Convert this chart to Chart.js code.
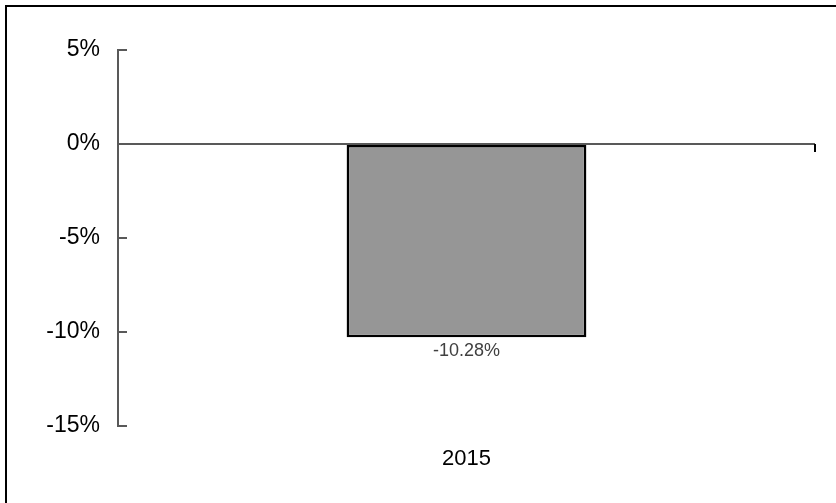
<!DOCTYPE html>
<html>
<head>
<meta charset="utf-8">
<script src="https://cdn.jsdelivr.net/npm/chart.js@4.4.1/dist/chart.umd.min.js"></script>
<style>
  html, body { margin: 0; padding: 0; background: #fff; overflow: hidden; }
  #wrap { position: relative; width: 836px; height: 503px; }
  #frame { position: absolute; left: 5px; top: 5px; width: 900px; height: 600px; border: 2px solid #000; }
  #chart { position: absolute; left: 0; top: 0; }
</style>
</head>
<body>
<div id="wrap">
  <div id="frame"></div>
  <canvas id="chart" width="836" height="503"></canvas>
</div>
<script>
//categories and values
const years = ["2015"];
const returns = [-10.28];
//y axis range
const yMin = -15;
const yMax = 5;
const yStep = 5;

const fontFamily = "'Liberation Sans', Arial, sans-serif";

//draws the inward tick marks, the end tick of the zero line and the value label
const axisExtras = {
  id: "axisExtras",
  afterDatasetsDraw(chart) {
    const ctx = chart.ctx;
    const y = chart.scales.y;
    const area = chart.chartArea;
    ctx.save();
    ctx.strokeStyle = "#595959";
    ctx.lineWidth = 2;
    y.ticks.forEach((t) => {
      const py = Math.round(y.getPixelForValue(t.value));
      ctx.beginPath();
      ctx.moveTo(area.left, py);
      ctx.lineTo(area.left + 9, py);
      ctx.stroke();
    });
    const zero = Math.round(y.getPixelForValue(0));
    ctx.strokeStyle = "#000";
    ctx.beginPath();
    ctx.moveTo(area.right, zero);
    ctx.lineTo(area.right, zero + 8);
    ctx.stroke();

    //value label under each bar
    const meta = chart.getDatasetMeta(0);
    ctx.fillStyle = "#404040";
    ctx.font = "18px " + fontFamily;
    ctx.textAlign = "center";
    ctx.textBaseline = "middle";
    meta.data.forEach((bar, i) => {
      ctx.fillText(returns[i].toFixed(2) + "%", bar.x, bar.y + 14);
    });
    ctx.restore();
  },
};

new Chart(document.getElementById("chart"), {
  type: "bar",
  plugins: [axisExtras],
  data: {
    labels: years,
    datasets: [
      {
        data: returns,
        backgroundColor: "#969696",
        borderColor: "#000",
        borderWidth: 2.5,
        borderSkipped: false,
        barPercentage: 0.344,
        categoryPercentage: 1,
      },
    ],
  },
  options: {
    responsive: false,
    animation: false,
    layout: { padding: { top: 50, right: 21, left: 0, bottom: 0 } },
    plugins: { legend: { display: false }, tooltip: { enabled: false } },
    scales: {
      x: {
        grid: { display: false },
        border: { display: false },
        ticks: { color: "#000", font: { family: fontFamily, size: 22 }, padding: 12 },
        afterFit: (s) => { s.height = 77; },
      },
      y: {
        min: yMin,
        max: yMax,
        ticks: {
          stepSize: yStep,
          color: "#000",
          padding: 18,
          font: { family: fontFamily, size: 23 },
          callback: (v) => v + "%",
        },
        grid: {
          drawTicks: false,
          lineWidth: 2,
          color: (c) => (c.tick && c.tick.value === 0 ? "#595959" : "rgba(0,0,0,0)"),
        },
        border: { display: true, color: "#595959", width: 2 },
        afterFit: (s) => { s.width = 118; },
      },
    },
  },
});
</script>
</body>
</html>
